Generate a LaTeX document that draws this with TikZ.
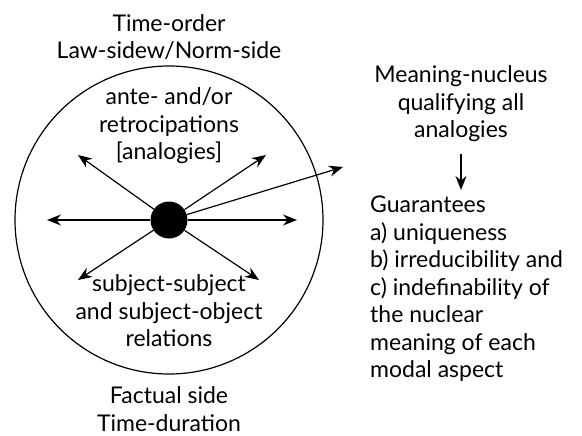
\documentclass[tikz,border=0pt]{standalone}
\usepackage{fontspec}
\setmainfont{Lato}
\usetikzlibrary{arrows.meta}
\begin{document}
\begin{tikzpicture}[x=1pt,y=-1pt,>={Stealth[length=14pt,width=11pt]},
		every node/.style={font=\fontsize{23}{27.5}\selectfont, inner sep=0pt},
		txt/.style={align=center},
		ray/.style={->,line width=1.2pt}]
		\def \cx{169}
		\def \cy{220}
		\def \r{154}
		\useasboundingbox (0,0) rectangle (582,436);
		\node[circle,draw,line width=1.2pt,minimum size=308pt] (sphere) at (\cx,\cy) {};
		\node[circle,fill,minimum size=37pt] (core) at (\cx,\cy) {};
		\coordinate (w) at (\cx-122,\cy);
		\coordinate (e) at (\cx+128,\cy);
		\coordinate (nw) at (\cx-91,\cy-65);
		\coordinate (ne) at (\cx+97,\cy-65);
		\coordinate (sw) at (\cx-91,\cy+60);
		\coordinate (se) at (\cx+90,\cy+60);
		\coordinate (reach) at (343,167);
		\draw[ray] (core) -- (w);
		\draw[ray] (core) -- (e);
		\draw[ray] (core) -- (nw);
		\draw[ray] (core) -- (ne);
		\draw[ray] (core) -- (sw);
		\draw[ray] (core) -- (se);
		\draw[ray] (core) -- (reach);
		\node[txt] (order) at (\cx,37) {Time-order\\Law-sidew/Norm-side};
		\node[txt] (ante) at (\cx,126) {ante- and/or\\retrocipations\\{[analogies]}};
		\node[txt] (rel) at (\cx,311) {subject-subject\\and subject-object\\relations};
		\node[txt] (fact) at (\cx,409) {Factual side\\Time-duration};
		\node[txt] (nucleus) at (461,104) {Meaning-nucleus\\qualifying all\\analogies};
		\node[align=left,anchor=north west] (guar) at (370,196) {Guarantees\\a) uniqueness\\b) irreducibility and\\c) indefinability of\\the nuclear\\meaning of each\\modal aspect};
		\draw[ray] (nucleus.south) ++(0,12) coordinate (top) (top) -- ([yshift=6pt]top |- guar.north);
	\end{tikzpicture}
\end{document}
